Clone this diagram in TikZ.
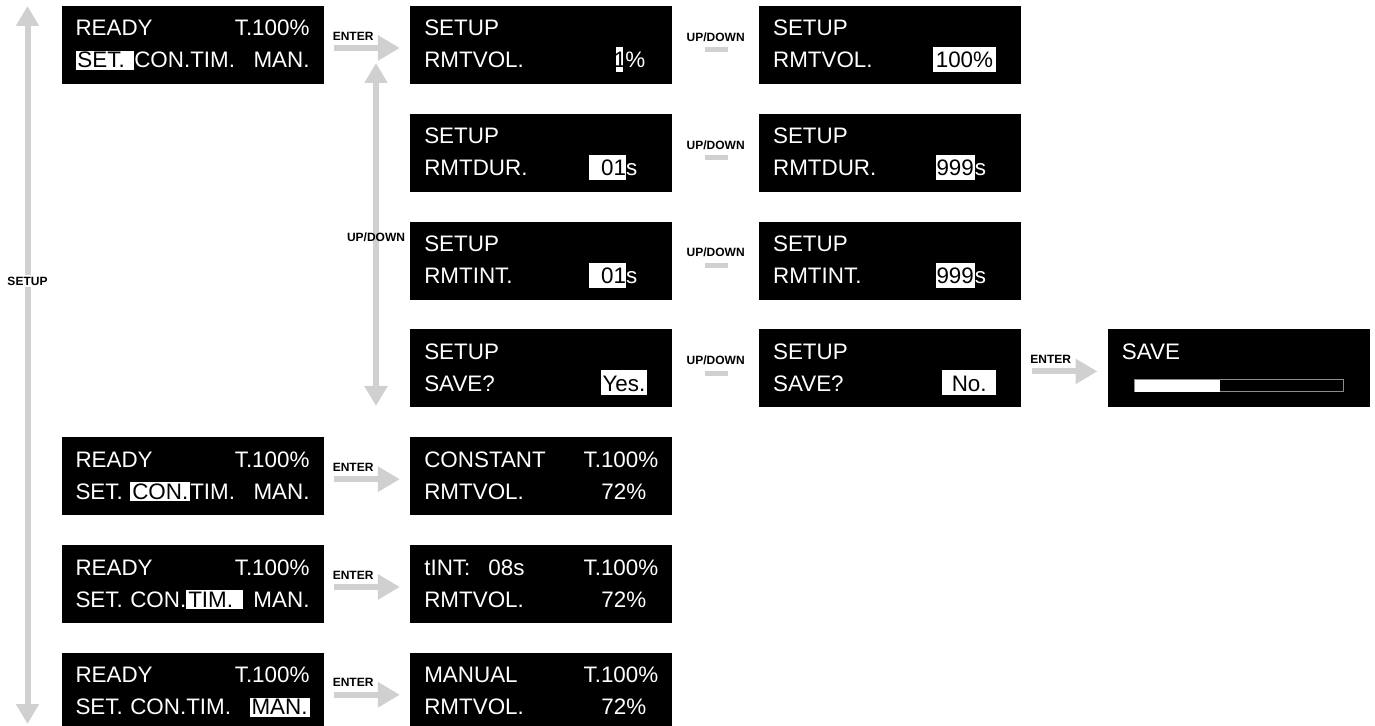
\documentclass[tikz,border=0pt]{standalone}
\usepackage{fontspec}
\setmainfont{Liberation Sans}
\usepackage{xcolor}
\usepackage{tikz}
\usetikzlibrary{arrows.meta,positioning}
\definecolor{arrowgrey}{HTML}{D0D0D0}
\definecolor{barframe}{HTML}{8C8C8C}
\newcommand{\hlsel}[1]{{\setlength{\fboxsep}{0pt}\colorbox{white}{\rule[-1pt]{0pt}{9.5pt}\kern1pt\color{black}#1\kern1pt}}}
\newcommand{\hlval}[2][1pt]{{\setlength{\fboxsep}{0pt}\colorbox{white}{\rule[-2pt]{0pt}{12.5pt}\kern#1\color{black}#2\kern#1}}}

\begin{document}
\begin{tikzpicture}[
  x=0.5pt, y=-0.5pt,
  node distance=14.5pt and 43pt,
  lcd/.style={fill=black, text=white, minimum width=131pt, minimum height=39pt, inner xsep=7pt, inner ysep=0pt, text width=117pt, align=left, font=\fontsize{11.2}{16}\selectfont, execute at begin node=\rule{0pt}{9pt}, execute at end node=\rule[-2pt]{0pt}{2pt}},
  keyword/.style={font=\fontsize{6}{7}\selectfont\bfseries, text=black, inner sep=1pt},
  greyarrow/.style={draw=arrowgrey, line width=3pt, shorten <=5pt, shorten >=5pt, -{Triangle[length=11pt, width=12pt]}},
  bothways/.style={draw=arrowgrey, line width=3pt, {Triangle[length=10pt, width=11pt]}-{Triangle[length=10pt, width=11pt]}},
  updash/.style={draw=arrowgrey, line width=2.5pt, shorten <=16pt, shorten >=15.5pt}
]
\useasboundingbox (0,0) rectangle (1375,726);

% main menu and setup screens
\node[lcd] (ready1) at (192.5,45) {READY\hfill T.100\%\\\hlsel{SET.\ }CON.TIM.\hfill MAN.};
\node[lcd, right=of ready1] (vol1) {SETUP\\RMTVOL.\hfill\hlval[-1.3pt]{1}\kern1pt\%\hspace*{6.5pt}};
\node[lcd, right=of vol1] (vol2) {SETUP\\RMTVOL.\hfill\hlval[1.5pt]{100\%}\hspace*{5.5pt}};
\node[lcd, below=of vol1] (dur1) {SETUP\\RMTDUR.\hfill\hlval[0pt]{\hspace*{6pt}01}s\hspace*{10.5pt}};
\node[lcd, right=of dur1] (dur2) {SETUP\\RMTDUR.\hfill\hlval[0.5pt]{999}s\hspace*{10.5pt}};
\node[lcd, below=of dur1] (int1) {SETUP\\RMTINT.\hfill\hlval[0pt]{\hspace*{6pt}01}s\hspace*{10.5pt}};
\node[lcd, right=of int1] (int2) {SETUP\\RMTINT.\hfill\hlval[0.5pt]{999}s\hspace*{10.5pt}};
\node[lcd, below=of int1] (save1) {SETUP\\SAVE?\hfill\hlval{Yes.}\hspace*{5.5pt}};
\node[lcd, right=of save1] (save2) {SETUP\\SAVE?\hfill\hlval{\ No.\ }\hspace*{5.5pt}};
\node[lcd, right=of save2] (save3) {SAVE\\};

% run modes
\node[lcd, below=of save1] (constant) {CONSTANT\hfill T.100\%\\RMTVOL.\hfill 72\%\hspace*{6pt}};
\node[lcd, left=of constant] (ready2) {READY\hfill T.100\%\\SET.\ \hlsel{CON.}TIM.\hfill MAN.};
\node[lcd, below=of constant] (timed) {tINT:\hspace{9pt}08s\hfill T.100\%\\RMTVOL.\hfill 72\%\hspace*{6pt}};
\node[lcd, left=of timed] (ready3) {READY\hfill T.100\%\\SET.\ CON.\hlsel{TIM.\ }\hfill MAN.};
\node[lcd, below=of timed] (manual) {MANUAL\hfill T.100\%\\RMTVOL.\hfill 72\%\hspace*{6pt}};
\node[lcd, left=of manual] (ready4) {READY\hfill T.100\%\\SET.\ CON.TIM.\hfill\hlsel{MAN.}};

% progress bar
\draw[draw=barframe, line width=0.5pt] ([shift={(27,-16)}]save3.south west) rectangle ([shift={(-27,-28)}]save3.south east);
\fill[white] ([shift={(27,-16)}]save3.south west) rectangle ([shift={(112,-28)}]save3.south west);

\coordinate (setuptop) at (27.5,6);
\coordinate (setupbot) at (27.5,724);
\coordinate (udtop) at (376,63);
\coordinate (udbot) at (376,406);

\draw[bothways] (setuptop) -- node[keyword, fill=white, pos=0.383] {SETUP} (setupbot);
\draw[bothways] (udtop) -- node[keyword, pos=0.507] {UP/DOWN} (udbot);

\draw[greyarrow] ([yshift=-1.5pt]ready1.east) -- node[keyword, pos=0.34, yshift=6pt] {ENTER} ([yshift=-1.5pt]vol1.west);
\draw[greyarrow] ([yshift=-1.5pt]ready2.east) -- node[keyword, pos=0.34, yshift=6pt] {ENTER} ([yshift=-1.5pt]constant.west);
\draw[greyarrow] ([yshift=-1.5pt]ready3.east) -- node[keyword, pos=0.34, yshift=6pt] {ENTER} ([yshift=-1.5pt]timed.west);
\draw[greyarrow] ([yshift=-1.5pt]ready4.east) -- node[keyword, pos=0.34, yshift=6pt] {ENTER} ([yshift=-1.5pt]manual.west);
\draw[greyarrow] ([yshift=-1.5pt]save2.east) -- node[keyword, pos=0.34, yshift=6pt] {ENTER} ([yshift=-1.5pt]save3.west);

\draw[updash] ([yshift=-2.5pt]vol1.east) -- node[keyword, midway, yshift=6.5pt] {UP/DOWN} ([yshift=-2.5pt]vol2.west);
\draw[updash] ([yshift=-2.5pt]dur1.east) -- node[keyword, midway, yshift=6.5pt] {UP/DOWN} ([yshift=-2.5pt]dur2.west);
\draw[updash] ([yshift=-2.5pt]int1.east) -- node[keyword, midway, yshift=6.5pt] {UP/DOWN} ([yshift=-2.5pt]int2.west);
\draw[updash] ([yshift=-2.5pt]save1.east) -- node[keyword, midway, yshift=6.5pt] {UP/DOWN} ([yshift=-2.5pt]save2.west);
\end{tikzpicture}
\end{document}
